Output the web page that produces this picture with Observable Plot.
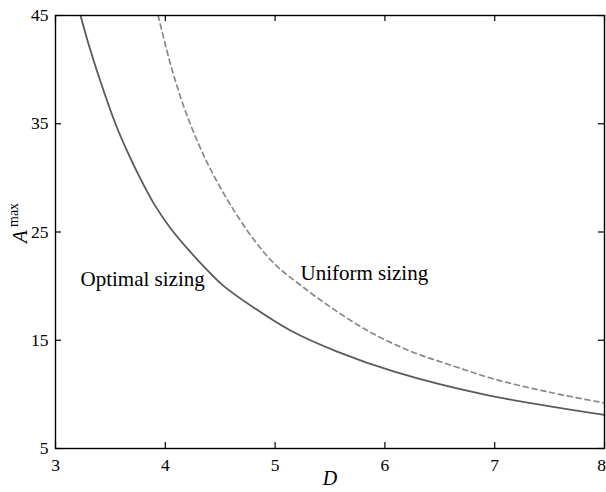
<!DOCTYPE html>
<html>
<head>
<meta charset="utf-8">
<script src="https://cdn.jsdelivr.net/npm/d3@7"></script>
<script src="https://cdn.jsdelivr.net/npm/@observablehq/plot@0.6"></script>
<style>
  html, body { margin: 0; padding: 0; background: #fff; }
</style>
</head>
<body>
<div id="chart"></div>
<script>
// Data
const optimalD = [3.228, 3.30, 3.40, 3.546, 3.66, 3.774, 3.90, 4.047, 4.22, 4.38, 4.533, 4.822, 5.14, 5.565, 6.10, 6.90, 8.00];
const optimalA = [45, 42.4, 39.2, 35, 32.3, 29.9, 27.55, 25.35, 23.25, 21.5, 20, 17.9, 15.9, 13.95, 12.05, 10.0, 8.1];
const uniformD = [3.935, 4.05, 4.168, 4.30, 4.427, 4.60, 4.806, 5.00, 5.23, 5.50, 5.84, 6.23, 6.60, 7.00, 7.50, 8.00];
const uniformA = [45, 40.4, 36.6, 33.2, 30.5, 27.4, 24.3, 22.0, 20.1, 18.1, 15.9, 14.0, 12.7, 11.4, 10.2, 9.2];
const xTicks = [3, 4, 5, 6, 7, 8];
const yTicks = [5, 15, 25, 35, 45];
const seriesLabels = ["Optimal sizing", "Uniform sizing"];
const labelPos = [[3.228, 20.0], [5.231, 20.55]];

const optimal = optimalD.map((d, i) => ({D: d, A: optimalA[i]}));
const uniform = uniformD.map((d, i) => ({D: d, A: uniformA[i]}));
const labels = seriesLabels.map((t, i) => ({text: t, D: labelPos[i][0], A: labelPos[i][1]}));

const W = 606, H = 492;
const mL = 55, mR = 2, mT = 15, mB = 44;
const plotW = W - mL - mR, plotH = H - mT - mB;
const tickLen = 6;
const font = "'Liberation Serif', 'Times New Roman', serif";

const chart = Plot.plot({
  width: W,
  height: H,
  marginLeft: mL,
  marginRight: mR,
  marginTop: mT,
  marginBottom: mB,
  style: {fontFamily: font, fontSize: "17px", background: "#fff", color: "#000"},
  x: {domain: [3, 8], label: null},
  y: {domain: [5, 45], label: null},
  marks: [
    Plot.line(uniform, {x: "D", y: "A", stroke: "#888", strokeWidth: 1.7, strokeDasharray: "5,4", curve: "catmull-rom"}),
    Plot.line(optimal, {x: "D", y: "A", stroke: "#5a5a5a", strokeWidth: 1.8, curve: "catmull-rom"}),
    Plot.tickX(xTicks, {x: d => d, insetTop: plotH - tickLen, stroke: "#000", strokeWidth: 1.2}),
    Plot.tickX(xTicks, {x: d => d, insetBottom: plotH - tickLen, stroke: "#000", strokeWidth: 1.2}),
    Plot.tickY(yTicks, {y: d => d, insetRight: plotW - tickLen, stroke: "#000", strokeWidth: 1.2}),
    Plot.tickY(yTicks, {y: d => d, insetLeft: plotW - tickLen, stroke: "#000", strokeWidth: 1.2}),
    Plot.frame({stroke: "#000", strokeWidth: 1.4}),
    Plot.axisX(xTicks.slice(0, -1), {tickSize: 0, tickPadding: 10, label: null, fontSize: 17.5, fontFamily: font}),
    Plot.axisX(xTicks.slice(-1), {tickSize: 0, tickPadding: 10, label: null, fontSize: 17.5, fontFamily: font, dx: -3}),
    Plot.axisY(yTicks, {tickSize: 0, tickPadding: 7, label: null, fontSize: 17.5, fontFamily: font}),
    Plot.text(labels, {x: "D", y: "A", text: "text", textAnchor: "start", lineAnchor: "bottom", fontSize: 21, fontFamily: font, fill: "#000"}),
    Plot.text(["D"], {frameAnchor: "bottom", text: d => d, fontStyle: "italic", fontSize: 20, fontFamily: font, lineAnchor: "bottom", dy: 36, fill: "#000"}),
    Plot.text(["A"], {frameAnchor: "left", text: d => d, fontStyle: "italic", fontSize: 21, fontFamily: font, rotate: -90, textAnchor: "start", lineAnchor: "bottom", dx: -29, dy: 11, fill: "#000"}),
    Plot.text(["max"], {frameAnchor: "left", text: d => d, fontSize: 14, fontFamily: font, rotate: -90, textAnchor: "start", lineAnchor: "bottom", dx: -38, dy: -5, fill: "#000"})
  ]
});
document.getElementById("chart").appendChild(chart);
</script>
</body>
</html>
